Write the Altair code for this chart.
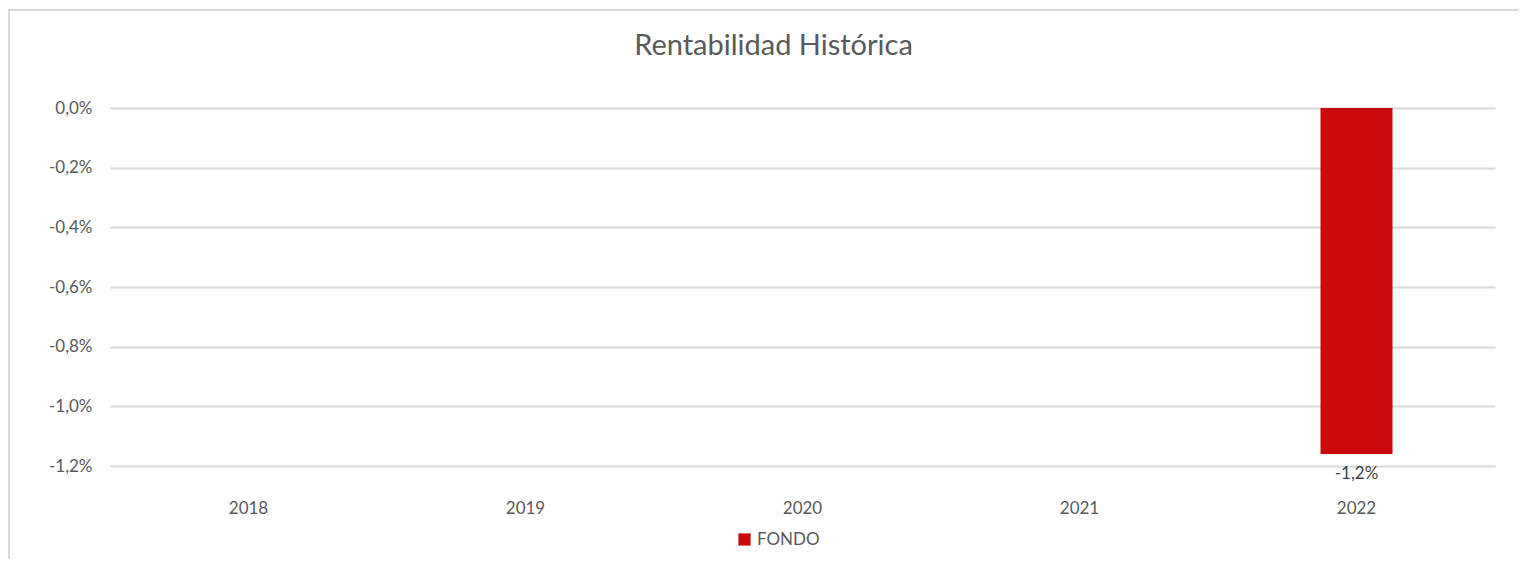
import altair as alt
import pandas as pd

years = ["2018", "2019", "2020", "2021", "2022"]
fondo = [None, None, None, None, -0.0116]
series_name = "FONDO"
y_ticks = [0.0, -0.002, -0.004, -0.006, -0.008, -0.010, -0.012]

df = pd.DataFrame({"year": years, "value": fondo, "serie": [series_name] * len(years)})

FONT = "Lato"
GRAY = "#595959"
RED = "#CB0B0B"
FMT = "replace(replace(format(datum.value, '.1%'), '.', ','), '\u2212', '-')"

base = alt.Chart(df)

bars = base.mark_bar(color=RED).encode(
    x=alt.X("year:N", sort=years, title=None,
            scale=alt.Scale(paddingInner=0.74, paddingOuter=0.37),
            axis=alt.Axis(labelAngle=0, domain=False, ticks=False, labelPadding=34,
                          labelFontSize=17, labelColor=GRAY, labelFont=FONT)),
    y=alt.Y("value:Q", title=None,
            scale=alt.Scale(domain=[-0.012, 0.0], nice=False, zero=False),
            axis=alt.Axis(values=y_ticks, domain=False, ticks=False, labelPadding=18,
                          labelExpr=FMT,
                          labelFontSize=17, labelColor=GRAY, labelFont=FONT,
                          gridColor="#D9D9D9", gridWidth=2)),
    color=alt.Color("serie:N", scale=alt.Scale(domain=[series_name], range=[RED]),
                    legend=alt.Legend(title=None, orient="none", legendX=626, legendY=423,
                                      symbolType="square", symbolSize=150, symbolStrokeWidth=0,
                                      labelFontSize=17, labelColor=GRAY, labelFont=FONT,
                                      labelOffset=4)),
)

labels = base.mark_text(baseline="top", dy=12, fontSize=17, color="#404040", font=FONT).encode(
    x=alt.X("year:N", sort=years),
    y=alt.Y("value:Q"),
    text=alt.Text("label:N"),
).transform_filter("isValid(datum.value)").transform_calculate(
    label=FMT
)

border_left = alt.Chart(pd.DataFrame({"a": [0]})).mark_rule(color="#D9D9D9", strokeWidth=2).encode(
    x=alt.value(-101), y=alt.value(-99), y2=alt.value(460)
)
border_top = alt.Chart(pd.DataFrame({"a": [0]})).mark_rule(color="#D9D9D9", strokeWidth=2).encode(
    x=alt.value(-101), x2=alt.value(1420), y=alt.value(-98)
)

chart = alt.layer(border_left, border_top, bars, labels).properties(
    width=1385, height=358,
    title=alt.TitleParams("Rentabilidad Histórica", fontSize=29, font=FONT, color=GRAY,
                          fontWeight="normal", offset=-53, dx=-29),
    autosize=alt.AutoSizeParams(type="none"),
    padding={"left": 102, "top": 100, "right": 24, "bottom": 93},
).configure_view(stroke=None)

chart.save("out.html", embed_options={"renderer": "svg", "actions": False})
